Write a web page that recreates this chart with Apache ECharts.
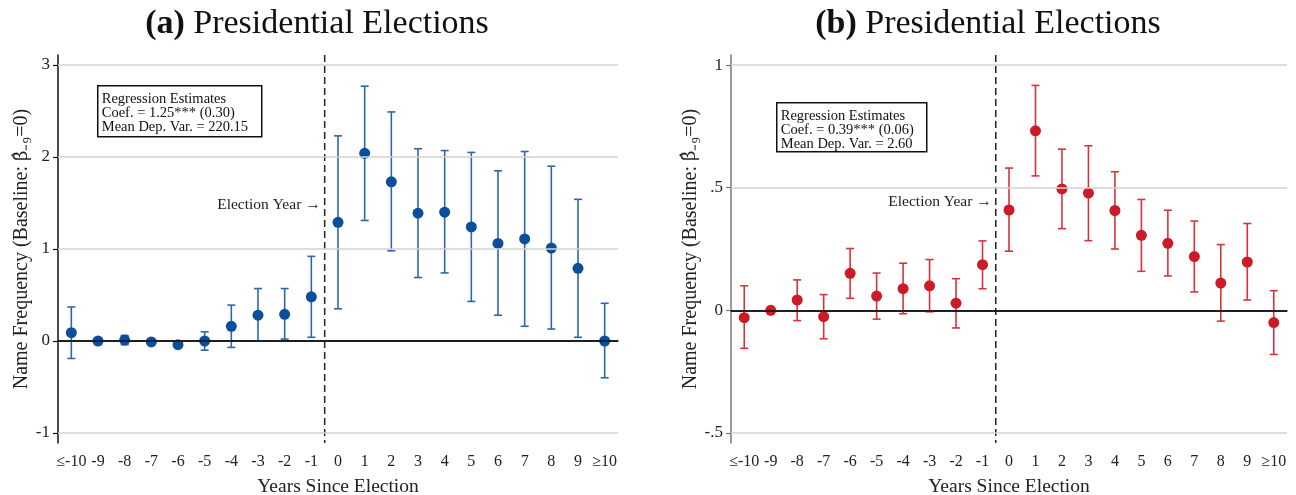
<!DOCTYPE html>
<html><head><meta charset="utf-8">
<script src="https://cdn.jsdelivr.net/npm/echarts@6/dist/echarts.min.js"></script>
<style>html,body{margin:0;padding:0;background:#fff}#c{width:1296px;height:495px}</style>
</head><body><div id="c"></div>
<script>
const categories = ['≤-10','-9','-8','-7','-6','-5','-4','-3','-2','-1','0','1','2','3','4','5','6','7','8','9','≥10'];

const leftCoef = [0.09, 0, 0.01, -0.01, -0.04, 0.00, 0.16, 0.28, 0.29, 0.48, 1.29, 2.04, 1.73, 1.39, 1.40, 1.24, 1.06, 1.11, 1.01, 0.79, 0.00];
const leftLo   = [-0.19, null, -0.04, -0.03, -0.06, -0.10, -0.07, 0.00, 0.02, 0.04, 0.35, 1.31, 0.98, 0.69, 0.74, 0.43, 0.28, 0.16, 0.13, 0.04, -0.40];
const leftHi   = [0.37, null, 0.06, 0.01, -0.02, 0.10, 0.39, 0.57, 0.57, 0.92, 2.23, 2.77, 2.49, 2.09, 2.07, 2.05, 1.85, 2.06, 1.90, 1.54, 0.41];

const rightCoef = [-0.03, 0, 0.042, -0.026, 0.151, 0.058, 0.088, 0.10, 0.029, 0.186, 0.409, 0.732, 0.495, 0.478, 0.407, 0.306, 0.273, 0.219, 0.111, 0.197, -0.05];
const rightLo   = [-0.155, null, -0.042, -0.116, 0.049, -0.036, -0.014, -0.006, -0.072, 0.088, 0.241, 0.548, 0.333, 0.284, 0.25, 0.159, 0.14, 0.075, -0.044, 0.042, -0.18];
const rightHi   = [0.10, null, 0.124, 0.064, 0.252, 0.152, 0.192, 0.207, 0.129, 0.283, 0.58, 0.917, 0.657, 0.671, 0.565, 0.452, 0.408, 0.364, 0.268, 0.354, 0.08];

const leftTicks = [-1, 0, 1, 2, 3];
const leftTickLabels = ['-1', '0', '1', '2', '3'];
const rightTicks = [-0.5, 0, 0.5, 1];
const rightTickLabels = ['-.5', '0', '.5', '1'];

const leftBox = ['Regression Estimates', 'Coef. = 1.25*** (0.30)', 'Mean Dep. Var. = 220.15'];
const rightBox = ['Regression Estimates', 'Coef. = 0.39*** (0.06)', 'Mean Dep. Var. = 2.60'];

const FONT = 'Liberation Serif';
const electionIdx = 9; // last pre-election category (-1)

function errorBars(color) {
  return function (params, api) {
    const lo = api.value(1), hi = api.value(2);
    if (isNaN(lo) || isNaN(hi)) return null;
    const x = api.value(0);
    const a = api.coord([x, hi]), b = api.coord([x, lo]);
    const w = 4;
    const st = {stroke: color, lineWidth: 1.6};
    return {type: 'group', children: [
      {type: 'line', shape: {x1: a[0], y1: a[1], x2: b[0], y2: b[1]}, style: st},
      {type: 'line', shape: {x1: a[0]-w, y1: a[1], x2: a[0]+w, y2: a[1]}, style: st},
      {type: 'line', shape: {x1: b[0]-w, y1: b[1], x2: b[0]+w, y2: b[1]}, style: st}
    ]};
  };
}

function electionLine(labelY) {
  return function (params, api) {
    const p = api.coord([api.value(0), labelY]);
    const half = api.size([1, 0])[0] / 2;
    const x = p[0] + half;
    const cs = params.coordSys;
    return {type: 'group', children: [
      {type: 'line', shape: {x1: x, y1: cs.y, x2: x, y2: cs.y + cs.height},
       style: {stroke: '#222', lineWidth: 1.5, lineDash: [7, 4]}},
      {type: 'text', x: x - 4, y: p[1],
       style: {text: 'Election Year →', font: '15.5px "' + FONT + '"', fill: '#222', align: 'right', verticalAlign: 'middle'}}
    ]};
  };
}

function gridLines(ticks) {
  return ticks.map(v => ({yAxis: v, lineStyle: {color: v === 0 ? '#111' : '#d2d2d2', width: 1.5, type: 'solid'}}));
}

function xAxisCfg(idx) {
  return {
    type: 'category', gridIndex: idx, data: categories,
    axisLine: {lineStyle: {color: '#111', width: 1.5}},
    axisTick: {alignWithLabel: true, length: 5, lineStyle: {color: '#333', width: 1.2}},
    axisLabel: {interval: 0, fontFamily: FONT, fontSize: 16, color: '#222', margin: 11},
    splitLine: {show: false},
    name: 'Years Since Election', nameLocation: 'middle', nameGap: 34,
    nameTextStyle: {fontFamily: FONT, fontSize: 19.5, color: '#222'}
  };
}

function yAxisCfg(idx, min, max, ticks, labels, axisColor, nameGap) {
  return {
    type: 'value', gridIndex: idx, min: min, max: max,
    axisLine: {show: true, onZero: false, lineStyle: {color: axisColor, width: 1.5}},
    axisTick: {show: true, length: 5, customValues: ticks, lineStyle: {color: axisColor, width: 1.2}},
    axisLabel: {customValues: ticks, fontFamily: FONT, fontSize: 17, color: '#222', margin: 8,
      formatter: v => { const i = ticks.findIndex(t => Math.abs(t - v) < 1e-9); return i >= 0 ? labels[i] : ''; }},
    splitLine: {show: false},
    name: 'Name Frequency (Baseline: {g|β\u0302}₋₉=0)', nameLocation: 'middle', nameGap: nameGap, nameRotate: 90,
    nameTextStyle: {fontFamily: FONT, fontSize: 20, color: '#222',
      rich: {g: {fontFamily: 'DejaVu Serif', fontSize: 18, color: '#222'}}}
  };
}

function boxGraphic(x, y, w, h, lines) {
  return {type: 'group', left: x, top: y, children: [
    {type: 'rect', shape: {x: 0, y: 0, width: w, height: h}, style: {fill: '#fff', stroke: '#111', lineWidth: 1.5}},
    {type: 'text', x: 4, y: 7, style: {text: lines.join('\n'), font: '14.5px "' + FONT + '"', fill: '#111', lineHeight: 13.6}}
  ]};
}

const titleRich = {
  b: {fontFamily: FONT, fontSize: 34, fontWeight: 'bold', color: '#111'},
  n: {fontFamily: FONT, fontSize: 34, fontWeight: 'normal', color: '#111'}
};

const chart = echarts.init(document.getElementById('c'), null, {renderer: 'canvas'});
chart.setOption({
  backgroundColor: '#fff',
  animation: false,
  title: [
    {text: '{b|(a)}{n| Presidential Elections}', left: 312, top: 2, textAlign: 'center',
     textStyle: {fontWeight: 'normal', rich: titleRich}},
    {text: '{b|(b)}{n| Presidential Elections}', left: 983, top: 2, textAlign: 'center',
     textStyle: {fontWeight: 'normal', rich: titleRich}}
  ],
  grid: [
    {left: 58, top: 55, width: 560, height: 388, containLabel: false, outerBoundsMode: 'none'},
    {left: 731, top: 55, width: 556, height: 388, containLabel: false, outerBoundsMode: 'none'}
  ],
  xAxis: [xAxisCfg(0), xAxisCfg(1)],
  yAxis: [
    yAxisCfg(0, -1.109, 3.109, leftTicks, leftTickLabels, '#111', 26),
    yAxisCfg(1, -0.541, 1.041, rightTicks, rightTickLabels, '#777', 29)
  ],
  graphic: [
    boxGraphic(97, 85, 164, 51, leftBox),
    boxGraphic(776, 102, 150, 49, rightBox)
  ],
  series: [
    {type: 'line', xAxisIndex: 0, yAxisIndex: 0, data: [], z: 1, silent: true,
     markLine: {silent: true, symbol: 'none', label: {show: false}, data: gridLines(leftTicks), animation: false}},
    {type: 'line', xAxisIndex: 1, yAxisIndex: 1, data: [], z: 1, silent: true,
     markLine: {silent: true, symbol: 'none', label: {show: false}, data: gridLines(rightTicks), animation: false}},
    {type: 'custom', xAxisIndex: 0, yAxisIndex: 0, z: 2, renderItem: electionLine(1.48), data: [[electionIdx]], encode: {x: 0}},
    {type: 'custom', xAxisIndex: 1, yAxisIndex: 1, z: 2, renderItem: electionLine(0.443), data: [[electionIdx]], encode: {x: 0}},
    {type: 'custom', xAxisIndex: 0, yAxisIndex: 0, z: 3, renderItem: errorBars('#2f66ab'),
     data: categories.map((c, i) => [i, leftLo[i], leftHi[i]]), encode: {x: 0, y: [1, 2]}},
    {type: 'custom', xAxisIndex: 1, yAxisIndex: 1, z: 3, renderItem: errorBars('#d8323c'),
     data: categories.map((c, i) => [i, rightLo[i], rightHi[i]]), encode: {x: 0, y: [1, 2]}},
    {type: 'scatter', xAxisIndex: 0, yAxisIndex: 0, z: 4, symbol: 'circle', symbolSize: 11,
     itemStyle: {color: '#0b4f9c', opacity: 1}, data: categories.map((c, i) => [i, leftCoef[i]])},
    {type: 'scatter', xAxisIndex: 1, yAxisIndex: 1, z: 4, symbol: 'circle', symbolSize: 11,
     itemStyle: {color: '#cc1b26', opacity: 1}, data: categories.map((c, i) => [i, rightCoef[i]])}
  ]
});
</script>
</body></html>
